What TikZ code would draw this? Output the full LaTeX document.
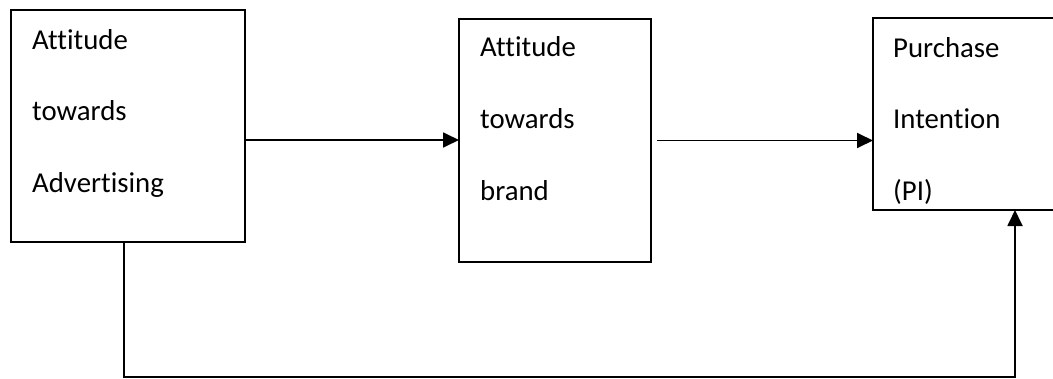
\documentclass[tikz,border=0pt]{standalone}
\usepackage{fontspec}
\setmainfont{Carlito}[Ligatures=NoCommon]
\usetikzlibrary{arrows.meta}
\begin{document}
\begin{tikzpicture}[x=1pt,y=-1pt,
  box/.style={draw, line width=1.8pt, inner sep=0pt, outer sep=0pt, anchor=north west},
  lbl/.style={anchor=base west, inner sep=0pt, font=\fontsize{28.8}{34}\selectfont},
  arr/.style={line width=1.8pt, -{Triangle[length=16pt,width=15pt]}}]
\useasboundingbox (0,0) rectangle (1053,378);
\clip (0,0) rectangle (1053,378);
\node[box, minimum width=234pt, minimum height=232pt] (b1) at (11,10) {};
\node[box, minimum width=192pt, minimum height=243pt] (b2) at (459,19) {};
\node[box, minimum width=200pt, minimum height=192pt] (b3) at (873,18) {};
\node[lbl] (t1a) at (32,49) {Attitude};
\node[lbl] (t1b) at (32,120) {towards};
\node[lbl] (t1c) at (32,192) {Advertising};
\node[lbl] (t2a) at (480,56) {Attitude};
\node[lbl] (t2b) at (480,128) {towards};
\node[lbl] (t2c) at (480,200) {brand};
\node[lbl] (t3a) at (893,57) {Purchase};
\node[lbl] (t3b) at (893,128) {Intention};
\node[lbl] (t3c) at (893,200) {(PI)};
\draw[arr] ([yshift=-14pt]b1.east) -- ([yshift=-14pt]b1.east -| b2.west);
\draw[arr] ([xshift=6pt]b2.east) -- (b2.east -| b3.west);
\coordinate (cb) at (1015,377);
\draw[arr] ([xshift=-4pt]b1.south) |- (cb) -- (cb |- b3.south);
\end{tikzpicture}
\end{document}
